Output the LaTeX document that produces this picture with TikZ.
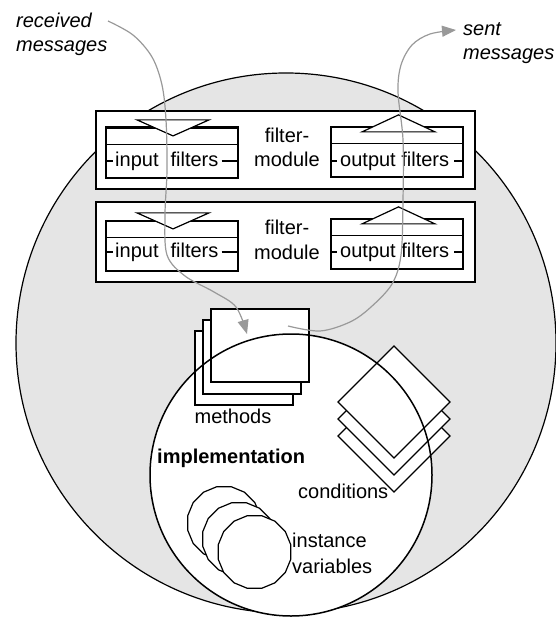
\documentclass[tikz,border=0pt]{standalone}
\usepackage{fontspec}
\setmainfont{Liberation Sans}
\usetikzlibrary{arrows.meta,shapes.geometric}
\definecolor{shade}{gray}{0.9}
\definecolor{msggray}{gray}{0.6}

\begin{document}
\begin{tikzpicture}[x=1pt,y=-1pt,
  every node/.style={inner sep=0pt, font=\fontsize{20}{24}\selectfont},
  outline/.style={draw=black, line width=1.2pt},
  whitebox/.style={outline, fill=white, rectangle, inner sep=0pt},
  modbox/.style={whitebox, minimum width=379pt},
  filterbox/.style={whitebox, minimum width=132pt, minimum height=50pt},
  methbox/.style={whitebox, minimum width=98pt, minimum height=74pt},
  varcircle/.style={outline, fill=white, regular polygon, regular polygon sides=16, minimum size=74pt},
  msgflow/.style={draw=msggray, line width=1.2pt, -{Triangle[length=14pt,width=11pt]}},
  tick/.style={draw=black, line width=1.2pt},
]
\useasboundingbox (0,0) rectangle (555,617);

% object body
\node[circle, outline, fill=shade, minimum size=540pt] (object) at (286,343) {};

% filter modules
\node[modbox, minimum height=78pt] (mod1) at (285.5,150) {};
\node[modbox, minimum height=80pt] (mod2) at (285.5,242) {};

\node[filterbox] (in1)  at (172,153) {};
\node[filterbox] (out1) at (397,152) {};
\node[filterbox] (in2)  at (172,246) {};
\node[filterbox] (out2) at (397,244) {};

\foreach \f in {in1,out1,in2,out2}{
  \draw[tick] ([yshift=-17.5pt]\f.north west) -- ([yshift=-17.5pt]\f.north east);
}
\draw[black, line width=2.6pt] (in1.north west) -- (in1.north east);

% direction triangles
\foreach \f in {in1,in2}{
  \draw[outline, fill=white, line join=miter]
    ([xshift=-35pt,yshift=7.5pt]\f.north) -- ([xshift=37pt,yshift=7.5pt]\f.north)
    -- ([xshift=1pt,yshift=-8.5pt]\f.north) -- cycle;
}
\foreach \f in {out1,out2}{
  \draw[outline, fill=white, line join=miter]
    ([xshift=-35pt,yshift=-5.5pt]\f.north) -- ([xshift=38pt,yshift=-5.5pt]\f.north)
    -- ([xshift=1.5pt,yshift=11.5pt]\f.north) -- cycle;
}

% filter labels
\node[anchor=base west] (in1lbl)  at (115,167) {input\hspace{12pt}filters};
\node[anchor=base west] (in2lbl)  at (115,258) {input\hspace{12pt}filters};
\node[anchor=base west] (out1lbl) at (340,167) {output filters};
\node[anchor=base west] (out2lbl) at (340,258) {output filters};

% short role strokes on either side of each label
\draw[tick] (in1.west |- 0,161) -- ([xshift=-2pt,yshift=6pt]in1lbl.base west);
\draw[tick] ([xshift=3pt,yshift=6pt]in1lbl.base east) -- (in1.east |- 0,161);
\draw[tick] (in2.west |- 0,252) -- ([xshift=-2pt,yshift=6pt]in2lbl.base west);
\draw[tick] ([xshift=3pt,yshift=6pt]in2lbl.base east) -- (in2.east |- 0,252);
\draw[tick] (out1.west |- 0,161) -- ([xshift=-3pt,yshift=6pt]out1lbl.base west);
\draw[tick] ([xshift=5pt,yshift=6pt]out1lbl.base east) -- (out1.east |- 0,161);
\draw[tick] (out2.west |- 0,252) -- ([xshift=-3pt,yshift=6pt]out2lbl.base west);
\draw[tick] ([xshift=5pt,yshift=6pt]out2lbl.base east) -- (out2.east |- 0,252);

\node[anchor=base] (fm1a) at (287,143) {filter-};
\node[anchor=base] (fm1b) at (287,167) {module};
\node[anchor=base] (fm2a) at (287,235) {filter-};
\node[anchor=base] (fm2b) at (287,259) {module};

% implementation area
\node[circle, fill=white, minimum size=282pt] (impl) at (291,475) {};

\node[methbox] (meth3) at (244,368) {};
\node[methbox] (meth2) at (252,357) {};
\node[methbox, minimum height=73pt] (meth1) at (260,345.5) {};

\coordinate (cond3) at (394,436);
\coordinate (cond2) at (394,419);
\coordinate (cond1) at (394,402);
\foreach \c in {cond3,cond2,cond1}{
  \draw[outline, fill=white] (\c) ++(0,-56) -- ++(56,56) -- ++(-56,56) -- ++(-56,-56) -- cycle;
}

\node[varcircle] (var3) at (224,523) {};
\node[varcircle] (var2) at (239,539) {};
\node[varcircle] (var1) at (254.5,552) {};

\draw[black, line width=1.5pt] (impl.center) circle[radius=141pt];

% labels
\node[anchor=base] (methlbl) at (233,423) {methods};
\node[anchor=base west, font=\fontsize{20}{24}\selectfont\bfseries] (impllbl) at (157,463) {implementation};
\node[anchor=base west] (condlbl) at (298,498) {conditions};
\node[anchor=base west] (varlbla) at (292,547) {instance};
\node[anchor=base west] (varlblb) at (292,573) {variables};

\node[anchor=base west, font=\fontsize{20}{24}\selectfont\itshape] (recvA) at (16,28) {received};
\node[anchor=base west, font=\fontsize{20}{24}\selectfont\itshape] (recvB) at (16,52) {messages};
\node[anchor=base west, font=\fontsize{20}{24}\selectfont\itshape] (sentA) at (463,36) {sent};
\node[anchor=base west, font=\fontsize{20}{24}\selectfont\itshape] (sentB) at (463,60) {messages};

% message flows
\coordinate (recvstart) at (108,21);
\coordinate (recvend) at (247,334);
\coordinate (sentstart) at (288,326);
\coordinate (sentend) at (456,30);

\draw[msgflow] plot[smooth, tension=0.55] coordinates {
  (recvstart) (133,35) (152,57) (162,85) (166,120) (167,170) (165,215)
  (167,255) (185,276) (214,292) (236,307) (recvend)};

\draw[msgflow] plot[smooth, tension=0.55] coordinates {
  (sentstart) (320,331) (350,322) (371,307) (392,284) (401,255) (403,200)
  (403,140) (398,92) (401,65) (412,45) (430,34) (sentend)};
\end{tikzpicture}
\end{document}
